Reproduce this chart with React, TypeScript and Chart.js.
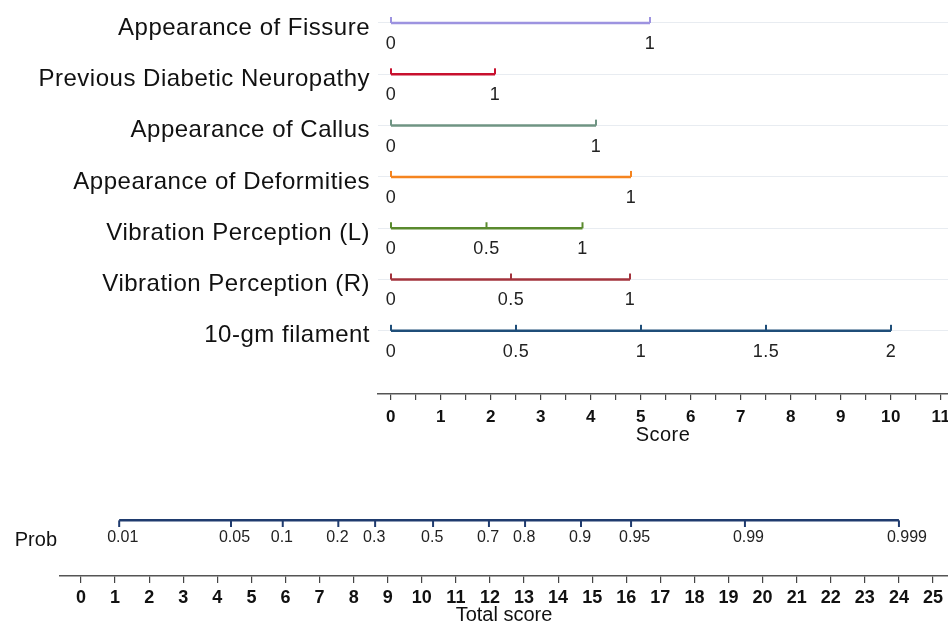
import React, { useEffect, useRef } from "react";
import { Chart, registerables } from "chart.js";

Chart.register(...registerables);

// ---------- data ----------
const rowLabels = [
  "Appearance of Fissure",
  "Previous Diabetic Neuropathy",
  "Appearance of Callus",
  "Appearance of Deformities",
  "Vibration Perception (L)",
  "Vibration Perception (R)",
  "10-gm filament",
];
const rowColors = ["#9d93e0", "#c8102e", "#6f9483", "#f5841f", "#5a8a2e", "#a3333d", "#1f4e79"];

// tick labels of each predictor and their position on the Score axis
const fissureValues = ["0", "1"];
const fissureScores = [0, 5.18];
const neuropathyValues = ["0", "1"];
const neuropathyScores = [0, 2.08];
const callusValues = ["0", "1"];
const callusScores = [0, 4.1];
const deformityValues = ["0", "1"];
const deformityScores = [0, 4.8];
const vibLValues = ["0", "0.5", "1"];
const vibLScores = [0, 1.91, 3.83];
const vibRValues = ["0", "0.5", "1"];
const vibRScores = [0, 2.4, 4.78];
const filamentValues = ["0", "0.5", "1", "1.5", "2"];
const filamentScores = [0, 2.5, 5.0, 7.5, 10.0];

const rowValues = [fissureValues, neuropathyValues, callusValues, deformityValues, vibLValues, vibRValues, filamentValues];
const rowScores = [fissureScores, neuropathyScores, callusScores, deformityScores, vibLScores, vibRScores, filamentScores];

const scoreTicks = [0, 0.5, 1, 1.5, 2, 2.5, 3, 3.5, 4, 4.5, 5, 5.5, 6, 6.5, 7, 7.5, 8, 8.5, 9, 9.5, 10, 10.5, 11];
const scoreTickLabels = ["0", "", "1", "", "2", "", "3", "", "4", "", "5", "", "6", "", "7", "", "8", "", "9", "", "10", "", "11"];

const totalTicks = [0, 1, 2, 3, 4, 5, 6, 7, 8, 9, 10, 11, 12, 13, 14, 15, 16, 17, 18, 19, 20, 21, 22, 23, 24, 25];
const totalTickLabels = ["0", "1", "2", "3", "4", "5", "6", "7", "8", "9", "10", "11", "12", "13", "14", "15", "16", "17", "18", "19", "20", "21", "22", "23", "24", "25"];

const probLabels = ["0.01", "0.05", "0.1", "0.2", "0.3", "0.5", "0.7", "0.8", "0.9", "0.95", "0.99", "0.999"];
const probTotals = [1.12, 4.4, 5.92, 7.55, 8.63, 10.33, 11.97, 13.03, 14.67, 16.14, 19.48, 24.0];
const probColor = "#1f3b6e";

// ---------- helpers ----------
const FONT = "Arial, 'Liberation Sans', sans-serif";
Chart.defaults.font.family = FONT;

function tickImage(color: string, up: boolean) {
  const c = document.createElement("canvas");
  c.width = 4;
  c.height = 14;
  const g = c.getContext("2d")!;
  g.fillStyle = color;
  if (up) g.fillRect(1, 1, 2, 6);
  else g.fillRect(1, 7, 2, 7);
  return c;
}

const tickLabelPlugin = {
  id: "tickLabels",
  afterDatasetsDraw(chart: any) {
    const ctx = chart.ctx;
    chart.data.datasets.forEach((ds: any, i: number) => {
      const meta = chart.getDatasetMeta(i);
      const o = ds.tickTextOpt;
      if (!o) return;
      ctx.save();
      ctx.font = o.font;
      ctx.fillStyle = o.color;
      ctx.textAlign = o.align;
      ctx.textBaseline = "middle";
      meta.data.forEach((pt: any, j: number) => {
        ctx.fillText(ds.tickText[j], pt.x + o.dx, pt.y + o.dy);
      });
      ctx.restore();
    });
  },
};

const spacingPlugin = {
  id: "spacing",
  beforeDraw(chart: any) {
    try {
      (chart.ctx as any).letterSpacing = "0.5px";
    } catch (e) {}
  },
  afterDraw(chart: any) {
    try {
      (chart.ctx as any).letterSpacing = "0px";
    } catch (e) {}
  },
};

function zeroPad(s: any) {
  s.paddingLeft = 0;
  s.paddingRight = 0;
  s.paddingTop = 0;
  s.paddingBottom = 0;
}

export default function App() {
  const topRef = useRef<HTMLCanvasElement>(null);
  const botRef = useRef<HTMLCanvasElement>(null);

  useEffect(() => {
    const top = new Chart(topRef.current!, {
      type: "scatter",
      data: {
        datasets: rowLabels.map((lab, i) => ({
          label: lab,
          data: rowScores[i].map((s) => ({ x: s, y: i })),
          showLine: true,
          borderColor: rowColors[i],
          backgroundColor: rowColors[i],
          borderWidth: 2.5,
          pointStyle: tickImage(rowColors[i], true),
          pointRadius: 5,
          tickText: rowValues[i],
          tickTextOpt: { font: `18px ${FONT}`, color: "#222", align: "center", dx: 0, dy: 21 },
        })) as any,
      },
      options: {
        responsive: false,
        animation: false,
        devicePixelRatio: 1,
        layout: { padding: 0, autoPadding: false },
        plugins: { legend: { display: false }, tooltip: { enabled: false } },
        scales: {
          x: {
            type: "linear",
            min: -0.26,
            max: 11.14,
            afterBuildTicks: (s: any) => {
              s.ticks = scoreTicks.map((v) => ({ value: v }));
            },
            afterFit: (s: any) => {
              s.height = 56;
              zeroPad(s);
            },
            grid: { drawOnChartArea: false, drawTicks: true, tickLength: 6, color: "#444", lineWidth: 1.2 },
            border: { display: true, color: "#555", width: 1.5 },
            ticks: {
              autoSkip: false,
              maxRotation: 0,
              padding: 7,
              color: "#111",
              font: { size: 17, weight: "bold" },
              callback: (v: any, idx: number) => scoreTickLabels[idx],
            },
            title: { display: true, text: "Score", color: "#111", font: { size: 20, lineHeight: 1 }, padding: { top: 0, bottom: 5 } },
          },
          y: {
            type: "linear",
            reverse: true,
            min: -0.448,
            max: 7.232,
            afterBuildTicks: (s: any) => {
              s.ticks = rowLabels.map((_, i) => ({ value: i }));
            },
            afterFit: (s: any) => {
              s.width = 378;
              zeroPad(s);
            },
            grid: { display: true, drawTicks: false, color: "#e8ecf1", lineWidth: 1 },
            border: { display: false },
            ticks: {
              padding: 8,
              labelOffset: 5,
              color: "#111",
              font: { size: 24 },
              callback: (v: any) => rowLabels[v],
            },
          },
        },
      } as any,
      plugins: [tickLabelPlugin, spacingPlugin],
    });

    const bot = new Chart(botRef.current!, {
      type: "scatter",
      data: {
        datasets: [
          {
            label: "Prob",
            data: probTotals.map((t) => ({ x: t, y: 0 })),
            showLine: true,
            borderColor: probColor,
            backgroundColor: probColor,
            borderWidth: 2.5,
            pointStyle: tickImage(probColor, false),
            pointRadius: 5,
            tickText: probLabels,
            tickTextOpt: { font: `16px ${FONT}`, color: "#222", align: "left", dx: -12, dy: 17 },
          } as any,
        ],
      },
      options: {
        responsive: false,
        animation: false,
        devicePixelRatio: 1,
        layout: { padding: 0, autoPadding: false },
        plugins: { legend: { display: false }, tooltip: { enabled: false } },
        scales: {
          x: {
            type: "linear",
            min: -0.616,
            max: 25.44,
            afterBuildTicks: (s: any) => {
              s.ticks = totalTicks.map((v) => ({ value: v }));
            },
            afterFit: (s: any) => {
              s.height = 48;
              zeroPad(s);
            },
            grid: { drawOnChartArea: false, drawTicks: true, tickLength: 7, color: "#444", lineWidth: 1.2 },
            border: { display: true, color: "#555", width: 1.5 },
            ticks: {
              autoSkip: false,
              maxRotation: 0,
              padding: 4,
              color: "#111",
              font: { size: 18, weight: "bold" },
              callback: (v: any, idx: number) => totalTickLabels[idx],
            },
            title: { display: true, text: "Total score", color: "#111", font: { size: 20, lineHeight: 0.85 }, padding: { top: 0, bottom: 0 } },
          },
          y: {
            type: "linear",
            reverse: true,
            min: -0.52,
            max: 0.48,
            afterBuildTicks: (s: any) => {
              s.ticks = [{ value: 0 }];
            },
            afterFit: (s: any) => {
              s.width = 60;
              zeroPad(s);
            },
            grid: { display: false, drawTicks: false },
            border: { display: false },
            ticks: {
              padding: 3,
              labelOffset: 20,
              color: "#111",
              font: { size: 20 },
              callback: () => "Prob",
            },
          },
        },
      } as any,
      plugins: [tickLabelPlugin],
    });

    return () => {
      top.destroy();
      bot.destroy();
    };
  }, []);

  return (
    <div style={{ position: "fixed", left: 0, top: 0, width: 948, height: 624, background: "#fff", overflow: "hidden" }}>
      <canvas ref={topRef} width={948} height={450} style={{ position: "absolute", left: 0, top: 0 }} />
      <canvas ref={botRef} width={948} height={164} style={{ position: "absolute", left: 0, top: 460 }} />
    </div>
  );
}
